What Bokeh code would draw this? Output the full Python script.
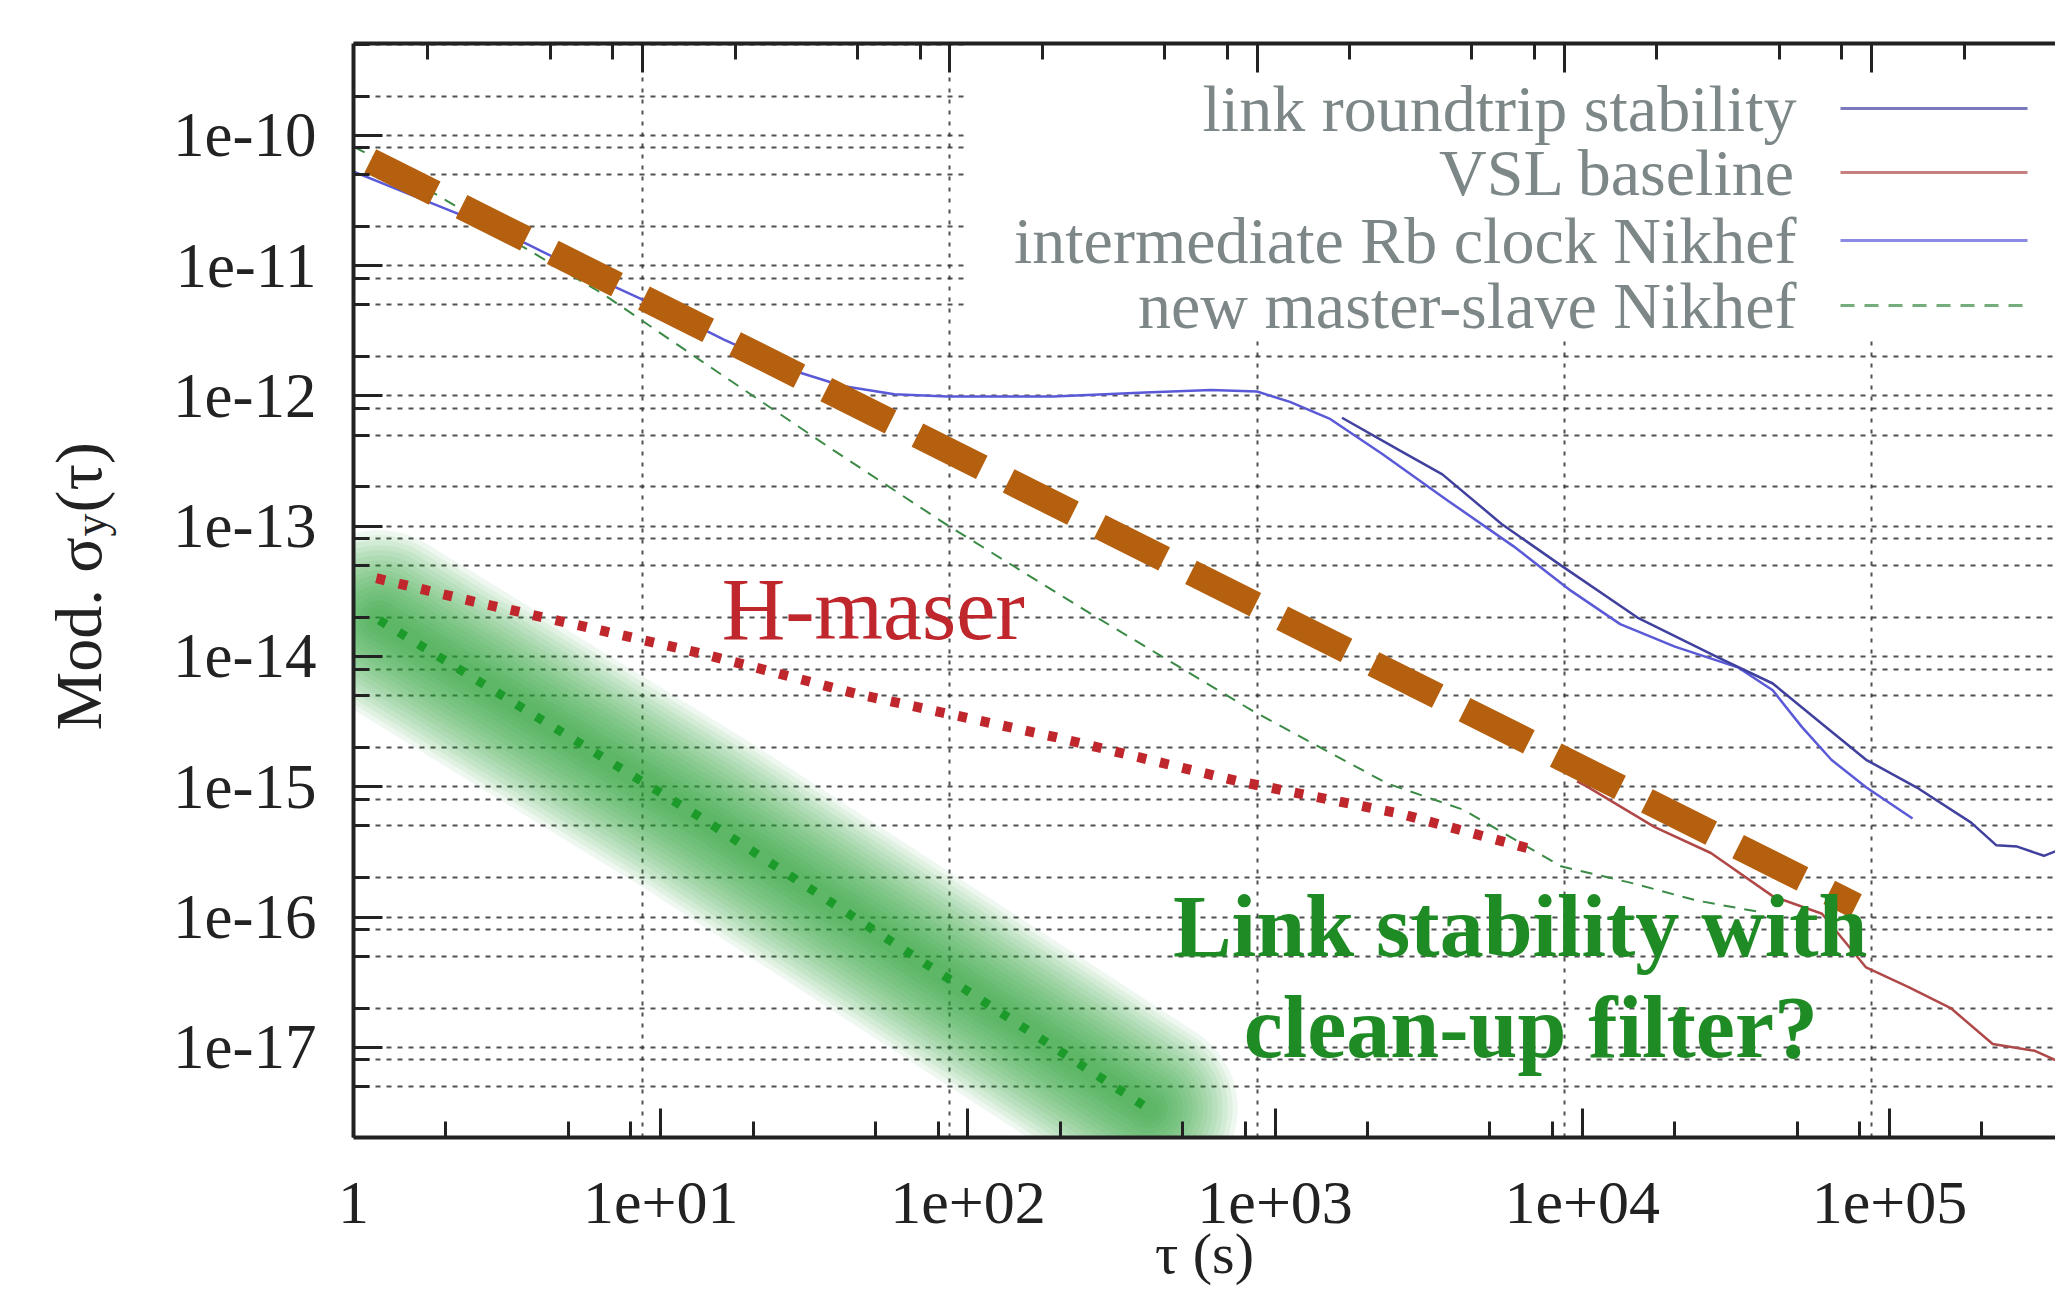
import math
from bokeh.plotting import figure
from bokeh.layouts import row
from bokeh.models import LogAxis, FixedTicker, Range1d, LogScale, Label, Arrow, BoxAnnotation
from bokeh.embed import file_html
from bokeh.resources import INLINE

# ---------------- data (tau in s, Mod. sigma_y) ----------------
tau_rb = [1, 1.57, 2.56, 4.2, 6.9, 11.3, 18.4, 30, 44.8, 66, 98, 217, 432, 708, 1000, 1280,
          1720, 2550, 4180, 6840, 1.05e4, 1.52e4, 2.29e4, 3.69e4, 4.77e4, 5.93e4, 7.4e4, 9.6e4, 1.36e5]
sig_rb = [6.0e-11, 3.9e-11, 2.45e-11, 1.47e-11, 8.2e-12, 4.8e-12, 2.7e-12, 1.6e-12, 1.19e-12,
          1.03e-12, 9.9e-13, 9.9e-13, 1.06e-12, 1.11e-12, 1.08e-12, 9.0e-13, 6.7e-13, 3.6e-13,
          1.57e-13, 7.0e-14, 3.2e-14, 1.77e-14, 1.19e-14, 8.2e-15, 5.5e-15, 2.88e-15, 1.61e-15,
          9.9e-16, 5.7e-16]

tau_link = [1890, 2920, 4010, 6250, 9750, 1.73e4, 3.15e4, 4.77e4, 6.94e4, 9.6e4, 1.40e5,
            2.11e5, 2.55e5, 2.98e5, 3.64e5, 3.98e5]
sig_link = [6.8e-13, 3.8e-13, 2.5e-13, 1.04e-13, 5.0e-14, 1.99e-14, 9.9e-15, 6.2e-15, 3.0e-15,
            1.61e-15, 9.9e-16, 5.3e-16, 3.55e-16, 3.47e-16, 2.95e-16, 3.2e-16]

tau_vsl = [1.1e4, 1.18e4, 1.97e4, 3.0e4, 4.78e4, 6.9e4, 9.6e4, 1.32e5, 1.81e5, 2.48e5, 3.4e5, 4.2e5]
sig_vsl = [1.1e-15, 1.01e-15, 4.9e-16, 3.1e-16, 1.44e-16, 1.06e-16, 4.1e-17, 2.9e-17, 2.0e-17,
           1.06e-17, 9.4e-18, 7.5e-18]

tau_ms = [1, 1.26, 2.3, 4.07, 7.4, 15.3, 42, 100, 292, 971, 2650, 4700, 9750, 1.68e4, 2.69e4, 4.45e4]
sig_ms = [9.7e-11, 7.3e-11, 3.16e-11, 1.4e-11, 6.1e-12, 1.9e-12, 3.8e-13, 9.9e-14, 2.08e-14,
          3.8e-15, 1.06e-15, 6.65e-16, 2.45e-16, 1.81e-16, 1.34e-16, 1.08e-16]

tau_target = [1.30, 8.9e4]
sig_target = [6.36e-11, 1.22e-16]

tau_hmaser = [1.36, 2.72, 7.44, 15.4, 49.9, 223, 855, 2930, 8090]
sig_hmaser = [3.99e-14, 2.69e-14, 1.57e-14, 1.06e-14, 5.15e-15, 2.39e-15, 1.11e-15, 6.2e-16, 3.24e-16]

tau_filter = [1.39, 15.3, 441]
sig_filter = [1.9e-14, 5.9e-16, 3.4e-18]

x_major = [1.0, 10.0, 100.0, 1e3, 1e4, 1e5]
x_labels = ["1", "1e+01", "1e+02", "1e+03", "1e+04", "1e+05"]
y_major = [1e-17, 1e-16, 1e-15, 1e-14, 1e-13, 1e-12, 1e-11, 1e-10]
y_labels = ["1e-17", "1e-16", "1e-15", "1e-14", "1e-13", "1e-12", "1e-11", "1e-10"]
minor_mult = [2, 5, 8]

legend_labels = ["link roundtrip stability", "VSL baseline",
                 "intermediate Rb clock Nikhef", "new master-slave Nikhef"]

# ---------------- styling ----------------
C_LINK = "#40409e"
C_RB = "#5a5ad8"
C_VSL = "#b04848"
C_MS = "#3a8a46"
C_HM = "#bf272d"
C_FILT = "#1c9a2a"
C_TARGET = "#b5600f"
C_TEXTG = "#1f8b24"
FONT = "Liberation Serif"
AX = "#222222"
GRID = "#333333"

X0, X1 = 1.146, 3.97e5
XB0, XB1 = 1.0, 3.47e5
Y0, Y1 = 2.03e-18, 5.07e-10

x_minor = [m * 10.0 ** k for k in range(0, 6) for m in minor_mult]
y_minor = [m * 10.0 ** k for k in range(-18, -9) for m in minor_mult]

H = 1291
WL = 145
p = figure(width=2055 - WL, height=H, x_axis_type="log", y_axis_type="log",
           x_range=Range1d(X0, X1), y_range=Range1d(Y0, Y1),
           x_axis_location="above", y_axis_location="left",
           output_backend="svg", toolbar_location=None,
           min_border_left=353 - WL, min_border_right=0, min_border_top=43, min_border_bottom=154)
p.outline_line_color = None
p.background_fill_color = "white"
p.border_fill_color = "white"
p.extra_x_ranges = {"bottom": Range1d(XB0, XB1)}
p.extra_x_scales = {"bottom": LogScale()}


def style_axis(ax, fs):
    ax.axis_line_width = 4
    ax.axis_line_color = AX
    ax.major_tick_in = 29
    ax.major_tick_out = 0
    ax.minor_tick_in = 16
    ax.minor_tick_out = 0
    ax.major_tick_line_width = 3
    ax.minor_tick_line_width = 3
    ax.major_tick_line_color = AX
    ax.minor_tick_line_color = AX
    ax.major_label_text_font = FONT
    ax.major_label_text_font_size = fs
    ax.major_label_text_color = AX


# top axis (grid system), labels hidden
top = p.xaxis[0]
style_axis(top, "1px")
top.ticker = FixedTicker(ticks=x_major[1:], minor_ticks=x_minor)
top.major_label_overrides = {t: "" for t in x_major[1:]}
top.major_label_standoff = 0

# bottom axis with labels (slightly shifted as in the original figure)
bax = LogAxis(x_range_name="bottom",
              ticker=FixedTicker(ticks=x_major, minor_ticks=x_minor),
              major_label_overrides=dict(zip(x_major, x_labels)),
              axis_label="τ (s)")
style_axis(bax, "62px")
bax.major_label_standoff = 45
bax.axis_label_text_font = FONT
bax.axis_label_text_font_size = "58px"
bax.axis_label_text_font_style = "normal"
bax.axis_label_text_color = AX
bax.axis_label_standoff = -5
p.add_layout(bax, "below")

yax = p.yaxis[0]
style_axis(yax, "63px")
yax.ticker = FixedTicker(ticks=y_major, minor_ticks=y_minor)
yax.major_label_overrides = dict(zip(y_major, y_labels))
yax.major_label_standoff = 37

# grids
p.xgrid.ticker = FixedTicker(ticks=x_major[1:])
p.xgrid.grid_line_color = GRID
p.xgrid.grid_line_width = 2
p.xgrid.grid_line_dash = "4 7"
p.xgrid.grid_line_alpha = 0.85
p.ygrid.ticker = FixedTicker(ticks=y_major, minor_ticks=y_minor)
p.ygrid.grid_line_color = GRID
p.ygrid.grid_line_width = 2
p.ygrid.grid_line_dash = "5 6"
p.ygrid.grid_line_alpha = 0.85
p.ygrid.minor_grid_line_color = GRID
p.ygrid.minor_grid_line_width = 2
p.ygrid.minor_grid_line_dash = "5 6"
p.ygrid.minor_grid_line_alpha = 0.85

# white box behind the key
p.add_layout(BoxAnnotation(left=114, right=X1, bottom=2.7e-12, top=Y1,
                           fill_color="white", fill_alpha=1.0, line_alpha=0, level="underlay"))

# soft glow around the clean-up filter projection
for w in range(180, 10, -10):
    p.line(tau_filter, sig_filter, line_color="#2e9b37", line_alpha=0.075,
           line_width=w, line_cap="round")

p.line(tau_rb, sig_rb, line_color=C_RB, line_width=2.5)
p.line(tau_link, sig_link, line_color=C_LINK, line_width=2.5)
p.line(tau_vsl, sig_vsl, line_color=C_VSL, line_width=2.5)
p.line(tau_ms, sig_ms, line_color=C_MS, line_width=2, line_dash="12 9")
p.line(tau_hmaser, sig_hmaser, line_color=C_HM, line_width=10, line_dash="9 14")
p.line(tau_filter, sig_filter, line_color=C_FILT, line_width=9, line_dash="8 15")
p.line(tau_target, sig_target, line_color=C_TARGET, line_width=26, line_dash="72 30")

# annotations
p.add_layout(Label(x=18.1, y=2.29e-14, text="H-maser", text_font=FONT,
                   text_font_size="88px", text_color=C_HM, text_align="left",
                   text_baseline="alphabetic"))
p.add_layout(Label(x=7190, y=8.4e-17, text="Link stability with", text_font=FONT,
                   text_font_size="88px", text_font_style="bold", text_color=C_TEXTG,
                   text_align="center", text_baseline="alphabetic"))
p.add_layout(Label(x=7780, y=1.43e-17, text="clean-up filter?", text_font=FONT,
                   text_font_size="88px", text_font_style="bold", text_color=C_TEXTG,
                   text_align="center", text_baseline="alphabetic"))

# key (text right-aligned, sample on the right, as in gnuplot)
key_colors = [C_LINK, C_VSL, C_RB, C_MS]
key_dash = ["solid", "solid", "solid", "14 10"]
key_y = [1029, 965, 897, 832]
for lab, col, dsh, yy in zip(legend_labels, key_colors, key_dash, key_y):
    p.add_layout(Label(x=1443, y=yy, x_units="screen", y_units="screen", text=lab,
                       text_font=FONT, text_font_size="66px", text_color="#7d8787",
                       text_align="right", text_baseline="middle"))
    p.add_layout(Arrow(end=None, x_start=1487, y_start=yy, x_end=1674, y_end=yy,
                       start_units="screen", end_units="screen",
                       line_color=col, line_alpha=0.7, line_width=3, line_dash=dsh))

# y-axis title (with subscript) on a narrow side panel
yl = figure(width=WL, height=H, x_range=(0, 1), y_range=(0, 1),
            x_axis_location=None, y_axis_location=None,
            output_backend="svg", toolbar_location=None,
            min_border_left=0, min_border_right=0, min_border_top=0, min_border_bottom=0)
yl.outline_line_color = None
yl.xgrid.visible = False
yl.ygrid.visible = False
yl.background_fill_color = "white"
yl.border_fill_color = "white"
yl.add_layout(Label(x=78, y=407, x_units="screen", y_units="screen", text="Mod. σ",
                    angle=math.pi / 2, text_font=FONT, text_font_size="66px", text_color=AX,
                    text_align="left", text_baseline="alphabetic"))
yl.add_layout(Label(x=90, y=601, x_units="screen", y_units="screen", text="y",
                    angle=math.pi / 2, text_font=FONT, text_font_size="46px", text_color=AX,
                    text_align="left", text_baseline="alphabetic"))
yl.add_layout(Label(x=78, y=625, x_units="screen", y_units="screen", text="(τ)",
                    angle=math.pi / 2, text_font=FONT, text_font_size="66px", text_color=AX,
                    text_align="left", text_baseline="alphabetic"))

layout = row(yl, p, spacing=0)
open("out.html", "w").write(file_html(layout, INLINE))
